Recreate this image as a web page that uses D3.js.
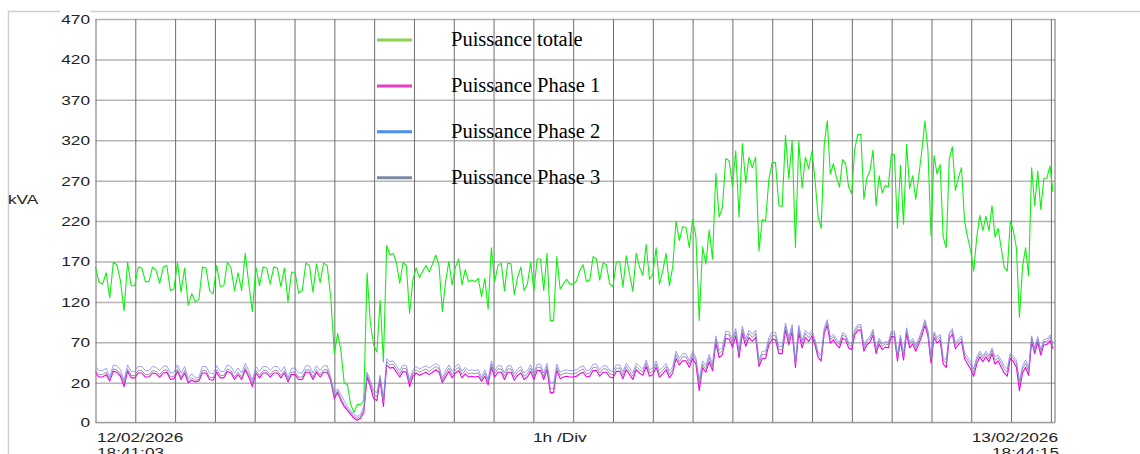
<!DOCTYPE html>
<html>
<head>
<meta charset="utf-8">
<script src="https://cdn.jsdelivr.net/npm/d3@7"></script>
<style>
  html, body { margin: 0; padding: 0; background: #fff; }
  svg { display: block; }
</style>
</head>
<body>
<svg id="chart" width="1140" height="454"></svg>
<script>
// Recording window, one sample block per 6 hours
const startTime = new Date(2026, 1, 12, 18, 41, 3);
const endTime = new Date(2026, 1, 13, 18, 44, 15);
const blockHours = 6;

const yTicks = [0, 20, 70, 120, 170, 220, 270, 320, 370, 420, 470];
const seriesNames = ['Puissance totale', 'Puissance Phase 1', 'Puissance Phase 2', 'Puissance Phase 3'];

// kVA readings, split in 6-hour blocks
const totalKva = [
  [163,144,142,156,125,169,166,146,109,169,140,140,163,162,145,145,163,159,143,163,165,134,136,169,132,162,116,130,120,123,163,162,134,130,165,139,140,169,162,134,156,134,180,142,108,163,140,163,162,142,163,162,139,162,120,157,156,131,134,168,165,132,167,144,168,165,125],
  [56,81,60,20,19,9,5,9,9,11,156,94,67,58,122,46,190,178,180,168,143,169,165,106,147,162,150,158,165,157,167,178,165,108,145,170,141,163,173,141,160,145,147,145,149,126,149,111,187,145,165,168,134,168,167,129,150,163,134,142,169,134,173,173,134,180,97,97,176,136,142,148,142],
  [142,146,159,166,145,147,176,173,147,168,166,142,139,169,170,138,177,154,133,180,163,153,191,148,154,187,142,158,180,140,163,220,196,213,212,187,222,200,97,188,167,209,173,279,225,237,297,295,263,307,225,316,267,299,286,299,183,222,220,272,293,292,239,238,326,272,320,187,319,261,299,285],
  [307,270,225,211,315,344,278,291,274,262,296,291,262,254,309,327,327,247,274,282,308,239,276,255,264,262,303,302,211,289,216,315,260,276,247,276,307,344,307,202,301,278,290,200,187,297,312,258,274,286,220,200,183,158,200,227,208,226,208,239,200,211,187,163,158,220,208,187,101,163,187,152,286,239,282,234,273,273,288,256]
];

const phase1Kva = [
  [32,27,27,30,22,34,33,28,18,34,26,26,32,32,27,27,32,31,27,32,33,24,25,34,24,32,20,23,21,22,32,32,24,23,33,26,26,34,32,24,30,24,36,27,18,32,26,32,32,27,32,32,26,32,21,30,30,24,24,33,33,24,33,27,33,33,22],
  [12,15,11,8,6,4,2,1,2,5,27,18,12,11,23,8,42,38,39,33,27,34,33,18,28,32,29,31,33,30,33,36,33,20,27,34,26,32,35,26,31,27,28,27,28,22,28,19,39,27,33,33,24,33,33,23,29,32,24,27,34,24,35,35,24,36,15,15,35,25,27,28,27],
  [27,28,31,33,27,28,35,35,28,33,33,27,26,34,34,25,36,30,24,36,32,29,40,28,30,39,27,31,36,26,32,50,42,47,47,39,50,43,16,39,33,46,35,69,51,55,75,74,64,78,51,81,65,76,71,76,40,50,50,67,74,73,56,56,85,67,83,39,82,63,76,71],
  [78,66,51,47,81,91,69,73,67,63,75,73,63,61,79,85,85,59,67,70,79,56,68,61,64,63,77,77,47,72,48,81,63,68,59,68,78,91,78,44,76,69,73,43,39,75,80,62,67,71,50,43,37,28,43,52,46,52,46,56,43,47,39,32,28,50,46,39,16,32,39,29,71,56,70,54,67,67,72,62]
];

const phase2Kva = [
  [40,35,35,38,27,42,41,36,23,42,34,34,40,40,35,35,40,39,35,40,41,32,33,42,32,40,25,31,26,27,40,40,32,31,41,34,34,42,40,32,38,32,44,35,23,40,34,40,40,35,40,40,34,40,26,38,38,32,32,41,41,32,41,35,41,41,27],
  [15,17,14,11,8,6,4,3,4,8,33,23,16,15,29,12,50,46,47,41,35,42,41,23,36,40,37,39,41,38,41,44,41,25,35,42,34,40,43,34,39,35,36,35,36,27,36,24,47,35,41,41,32,41,41,31,37,40,32,35,42,32,43,43,32,44,20,20,43,33,35,36,35],
  [35,36,39,41,35,36,43,43,36,41,41,35,34,42,42,33,44,38,32,44,40,37,48,36,38,47,35,39,44,34,40,59,50,56,56,47,59,51,23,47,41,55,43,78,60,64,84,83,73,87,60,90,74,85,80,85,48,59,59,76,83,82,65,65,94,76,92,47,91,72,85,80],
  [85,73,58,54,88,98,76,80,74,70,82,80,70,68,86,92,92,66,74,77,86,63,75,68,71,70,84,84,54,79,55,88,70,75,66,75,85,98,85,53,83,76,80,52,48,82,87,69,74,78,57,52,46,37,52,59,53,59,53,63,52,54,48,41,37,57,53,48,22,41,48,38,78,63,77,61,74,74,79,69]
];

const phase3Kva = [
  [35,30,30,33,24,37,36,31,20,37,29,29,35,35,30,30,35,34,30,35,36,27,28,37,27,35,22,26,23,24,35,35,27,26,36,29,29,37,35,27,33,27,39,30,20,35,29,35,35,30,35,35,29,35,23,33,33,27,27,36,36,27,36,30,36,36,24],
  [13,16,12,9,7,5,3,2,3,6,30,20,14,13,26,10,46,42,43,37,31,38,37,20,32,36,33,35,37,34,37,40,37,22,31,38,30,36,39,30,35,31,32,31,32,24,32,21,43,31,37,37,28,37,37,27,33,36,28,31,38,28,39,39,28,40,17,17,39,29,31,32,31],
  [31,32,35,37,31,32,39,39,32,37,37,31,30,38,38,29,40,34,28,40,36,33,44,32,34,43,31,35,40,30,36,55,46,52,52,43,55,48,19,43,37,51,39,74,56,60,80,79,69,83,56,86,70,81,76,81,44,55,55,72,79,78,61,61,90,72,88,43,87,68,81,76],
  [82,70,55,51,85,95,73,77,71,67,79,77,67,65,83,89,89,63,71,74,83,60,72,65,68,67,81,81,51,76,52,85,67,72,63,72,82,95,82,49,80,73,77,48,44,79,84,66,71,75,54,48,42,33,48,56,50,56,50,60,48,51,44,37,33,54,50,44,19,37,44,34,75,60,74,58,71,71,76,66]
];

const svg = d3.select('#chart');
const plotLeft = 95.5, plotRight = 1055, plotTop = 19, plotBottom = 422.3;
const stretch = 1.38; // axis text is drawn wide in the original
const axisFont = "'Liberation Sans', Arial, sans-serif";

const x = d3.scaleTime().domain([startTime, endTime]).range([plotLeft, 1053]);
const y = d3.scaleLinear().domain([0, 20, 470]).range([plotBottom, 382.7, plotTop]);

// Turn the blocks into timed samples
const toSamples = blocks => blocks.flatMap((blk, b) => {
  const t0 = +startTime + b * blockHours * 3600e3;
  const last = b === blocks.length - 1;
  const span = last ? (+endTime - t0) : blockHours * 3600e3;
  const denom = last ? blk.length - 1 : blk.length;
  return blk.map((v, j) => ({ t: new Date(t0 + span * j / denom), v }));
});

// Outer frame
svg.append('path')
  .attr('d', 'M8.5,454V11.5H60M90,11.5H1140')
  .attr('fill', 'none')
  .attr('stroke', '#cfcfcf')
  .attr('stroke-width', 1.5);

// Horizontal grid + labels
const hourTicks = d3.range(25).map(k => new Date(+startTime + k * 3600e3));

const yAxis = svg.append('g')
  .attr('transform', `translate(${plotLeft},0)`)
  .call(d3.axisLeft(y).tickValues(yTicks).tickSize(-(plotRight - plotLeft)).tickSizeOuter(0));
yAxis.select('.domain').remove();
yAxis.selectAll('.tick line').attr('stroke', '#b5b5b5').attr('stroke-width', 1.5);
yAxis.selectAll('.tick text')
  .attr('x', -4)
  .attr('dy', '0.36em')
  .attr('transform', `scale(${stretch},1)`)
  .attr('fill', '#222')
  .style('font-family', axisFont)
  .style('font-size', '12.5px');

// Vertical grid, one line per hour
const xAxis = svg.append('g')
  .attr('transform', `translate(0,${plotBottom})`)
  .call(d3.axisBottom(x).tickValues(hourTicks).tickSize(-(plotBottom - plotTop)).tickSizeOuter(0).tickFormat(''));
xAxis.select('.domain').attr('stroke', '#999').attr('d', `M${plotLeft},0H${plotRight}`);
xAxis.selectAll('.tick line').attr('stroke', '#6e6e6e').attr('stroke-width', 1);

svg.append('line')
  .attr('x1', plotRight).attr('x2', plotRight)
  .attr('y1', plotTop).attr('y2', plotBottom)
  .attr('stroke', '#6e6e6e');

// Series
const line = d3.line().x(d => x(d.t)).y(d => y(d.v));
const series = [
  { data: totalKva, color: '#10f010', width: 1.1, opacity: 1 },
  { data: phase1Kva, color: '#f000f0', width: 1.1, opacity: 1 },
  { data: phase3Kva, color: '#8c8c8c', width: 1, opacity: 0.9 },
  { data: phase2Kva, color: '#8080ff', width: 1, opacity: 0.75 }
];
svg.append('g').attr('class', 'series')
  .selectAll('path')
  .data(series)
  .join('path')
  .attr('d', s => line(toSamples(s.data)))
  .attr('fill', 'none')
  .attr('stroke', s => s.color)
  .attr('stroke-width', s => s.width)
  .attr('stroke-opacity', s => s.opacity)
  .attr('stroke-linejoin', 'round');

// Stretched axis texts
const addText = (tx, ty, str, anchor) => svg.append('text')
  .attr('transform', `translate(${tx},${ty}) scale(${stretch},1)`)
  .attr('text-anchor', anchor || 'start')
  .attr('fill', '#222')
  .style('font-family', axisFont)
  .style('font-size', '12.5px')
  .text(str);

addText(8, 204, 'kVA');
addText(97, 441.5, d3.timeFormat('%d/%m/%Y')(startTime));
addText(97, 456.5, d3.timeFormat('%H:%M:%S')(startTime));
addText(533, 441.5, '1h /Div');
addText(1058, 441.5, d3.timeFormat('%d/%m/%Y')(endTime), 'end');
addText(1059, 456.5, d3.timeFormat('%H:%M:%S')(endTime), 'end');

// Legend
const legendColors = ['#8ed24f', '#e93fbf', '#4a8ef0', '#7b8ba3'];
const legend = svg.append('g').attr('class', 'legend');
const legendRows = legend.selectAll('g')
  .data(seriesNames)
  .join('g')
  .attr('transform', (d, i) => `translate(0,${40 + i * 45.9})`);
legendRows.append('line')
  .attr('x1', 377).attr('x2', 412)
  .attr('stroke', (d, i) => legendColors[i])
  .attr('stroke-width', 3);
legendRows.append('text')
  .attr('x', 451)
  .attr('y', 6)
  .attr('fill', '#000')
  .style('font-family', "'Liberation Serif', 'Times New Roman', serif")
  .style('font-size', '20.5px')
  .text(d => d);
</script>
</body>
</html>
